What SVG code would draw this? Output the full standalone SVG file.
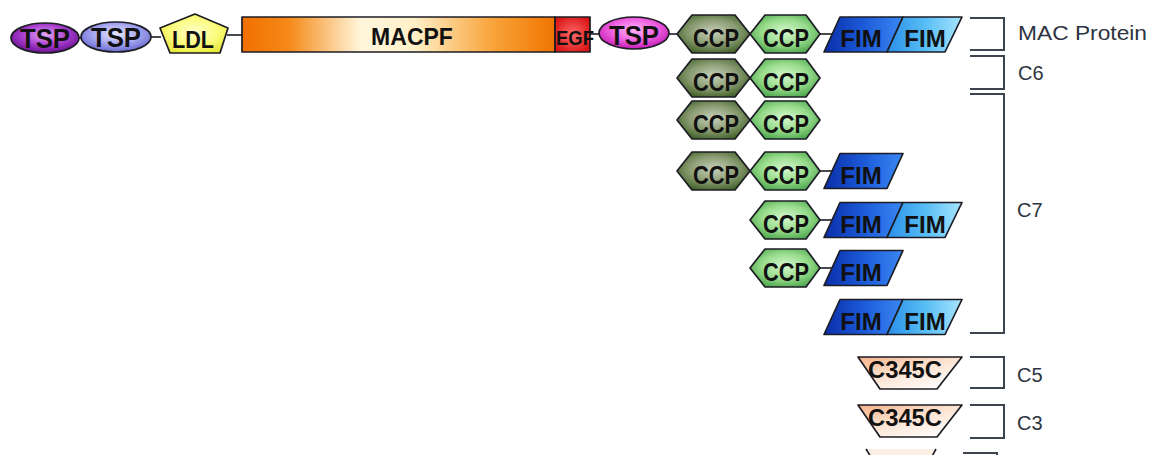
<svg xmlns="http://www.w3.org/2000/svg" width="1152" height="455" viewBox="0 0 1152 455">
  <style>
    .dom { stroke: #1c1c24; stroke-width: 1.7; stroke-linejoin: round; }
    .lbl { font-family: "Liberation Sans", Arial, sans-serif; font-weight: bold; fill: #111; text-anchor: middle; }
    .ccp { font-size: 26px; }
    .fim { font-size: 24px; }
    .tsp { font-size: 27px; }
    .link { stroke: #1c1c24; stroke-width: 1.6; fill: none; }
    .brk { stroke: #3c4450; stroke-width: 2; fill: none; }
    .name { font-family: "Liberation Sans", Arial, sans-serif; font-size: 20px; fill: #2c3440; }
  </style>
  <defs>
    <radialGradient id="gTsp1" cx="0.5" cy="0.4" r="0.6">
      <stop offset="0" stop-color="#e2a6f4"/>
      <stop offset="0.55" stop-color="#a93fd0"/>
      <stop offset="1" stop-color="#6a1190"/>
    </radialGradient>
    <radialGradient id="gTsp2" cx="0.5" cy="0.4" r="0.6">
      <stop offset="0" stop-color="#e6e6ff"/>
      <stop offset="0.55" stop-color="#a6a6f0"/>
      <stop offset="1" stop-color="#6a6ad0"/>
    </radialGradient>
    <radialGradient id="gLdl" cx="0.5" cy="0.45" r="0.6">
      <stop offset="0" stop-color="#ffffc8"/>
      <stop offset="0.6" stop-color="#fbfb7a"/>
      <stop offset="1" stop-color="#e8e83a"/>
    </radialGradient>
    <linearGradient id="gMac" x1="0" y1="0" x2="1" y2="0">
      <stop offset="0" stop-color="#f07000"/>
      <stop offset="0.15" stop-color="#f58a18"/>
      <stop offset="0.38" stop-color="#fff6dc"/>
      <stop offset="0.55" stop-color="#fff0c8"/>
      <stop offset="0.8" stop-color="#f8a43a"/>
      <stop offset="1" stop-color="#f07400"/>
    </linearGradient>
    <radialGradient id="gEgf" cx="0.5" cy="0.5" r="0.6">
      <stop offset="0" stop-color="#ff6a6a"/>
      <stop offset="1" stop-color="#d81414"/>
    </radialGradient>
    <radialGradient id="gTsp3" cx="0.5" cy="0.4" r="0.6">
      <stop offset="0" stop-color="#ffb4f8"/>
      <stop offset="0.55" stop-color="#ee62e0"/>
      <stop offset="1" stop-color="#c41cb4"/>
    </radialGradient>
    <radialGradient id="gCcpD" cx="0.5" cy="0.45" r="0.6">
      <stop offset="0" stop-color="#c8d0bc"/>
      <stop offset="0.55" stop-color="#8a9c72"/>
      <stop offset="1" stop-color="#3e5e26"/>
    </radialGradient>
    <radialGradient id="gCcpL" cx="0.5" cy="0.45" r="0.6">
      <stop offset="0" stop-color="#d6f8d0"/>
      <stop offset="0.55" stop-color="#98dc8c"/>
      <stop offset="1" stop-color="#4aa44a"/>
    </radialGradient>
    <linearGradient id="gFimA" x1="0" y1="0" x2="1" y2="0">
      <stop offset="0" stop-color="#0a2ea8"/>
      <stop offset="0.5" stop-color="#1c5ad8"/>
      <stop offset="1" stop-color="#3a88f4"/>
    </linearGradient>
    <linearGradient id="gFimB" x1="0" y1="0" x2="1" y2="0">
      <stop offset="0" stop-color="#2a8ee8"/>
      <stop offset="0.5" stop-color="#56bdf4"/>
      <stop offset="1" stop-color="#a8e4ff"/>
    </linearGradient>
    <linearGradient id="gC345" x1="0" y1="0" x2="0.8" y2="1">
      <stop offset="0" stop-color="#f4b088"/>
      <stop offset="0.45" stop-color="#fce0cc"/>
      <stop offset="1" stop-color="#ffffff"/>
    </linearGradient>

    <!-- reusable domain outlines, centred on the row's axis -->
    <polygon id="hexD" points="-36.5,0 -21.5,-19 21.5,-19 36.5,0 21.5,19 -21.5,19"/>
    <polygon id="hexL" points="-35,0 -20,-19 21,-19 35,0 21,19 -20,19"/>
    <polygon id="fimA" points="840,-17.5 903,-17.5 887,17.5 824,17.5"/>
    <polygon id="fimB" points="903,-17.5 962,-17.5 945,17.5 887,17.5"/>
    <polygon id="trap" points="858,-16 962,-16 937,16 880,16"/>
  </defs>

  <rect width="1152" height="455" fill="#ffffff"/>

  <!-- connectors between adjacent domains -->
  <g id="connectors">
    <line class="link" x1="78" y1="38" x2="82" y2="38"/>
    <line class="link" x1="151" y1="37" x2="161" y2="37"/>
    <line class="link" x1="227" y1="35" x2="242" y2="35"/>
    <line class="link" x1="589" y1="34" x2="599" y2="34"/>
    <line class="link" x1="669" y1="34" x2="678" y2="34"/>
    <line class="link" x1="819" y1="34" x2="833" y2="34"/>
    <line class="link" x1="819" y1="171" x2="833" y2="171"/>
    <line class="link" x1="819" y1="220" x2="833" y2="220"/>
    <line class="link" x1="819" y1="268" x2="833" y2="268"/>
  </g>

  <!-- MAC protein: full domain chain -->
  <g id="mac-tsp1">
    <ellipse class="dom" cx="45" cy="38" rx="34" ry="15" fill="url(#gTsp1)"/>
    <text class="lbl tsp" x="45" y="48" textLength="50" lengthAdjust="spacingAndGlyphs">TSP</text>
  </g>
  <g id="mac-tsp2">
    <ellipse class="dom" cx="116" cy="37" rx="35" ry="15" fill="url(#gTsp2)"/>
    <text class="lbl tsp" x="116" y="47" textLength="50" lengthAdjust="spacingAndGlyphs">TSP</text>
  </g>
  <g id="mac-ldl">
    <polygon class="dom" points="195,14 228,28 220,53 170,53 160,28" fill="url(#gLdl)"/>
    <text class="lbl" x="193" y="48" font-size="23" textLength="42" lengthAdjust="spacingAndGlyphs">LDL</text>
  </g>
  <g id="mac-macpf">
    <rect class="dom" x="242" y="17" width="313" height="35" fill="url(#gMac)"/>
    <text class="lbl" x="412" y="45" font-size="23">MACPF</text>
  </g>
  <g id="mac-egf">
    <rect class="dom" x="555" y="17" width="35" height="35" fill="url(#gEgf)"/>
    <text class="lbl" x="575" y="45" font-size="20" textLength="38" lengthAdjust="spacingAndGlyphs">EGF</text>
  </g>
  <g id="mac-tsp3">
    <ellipse class="dom" cx="634" cy="33" rx="35" ry="16" fill="url(#gTsp3)"/>
    <text class="lbl tsp" x="634" y="45" textLength="50" lengthAdjust="spacingAndGlyphs">TSP</text>
  </g>
  <g id="mac-ccp1">
    <use href="#hexD" x="713.5" y="34" class="dom" fill="url(#gCcpD)"/>
    <text class="lbl ccp" x="716" y="47" textLength="46" lengthAdjust="spacingAndGlyphs">CCP</text>
  </g>
  <g id="mac-ccp2">
    <use href="#hexL" x="785" y="34" class="dom" fill="url(#gCcpL)"/>
    <text class="lbl ccp" x="786" y="47" textLength="46" lengthAdjust="spacingAndGlyphs">CCP</text>
  </g>
  <g id="mac-fim1">
    <use href="#fimA" y="34.5" class="dom" fill="url(#gFimA)"/>
    <text class="lbl fim" x="861" y="47">FIM</text>
  </g>
  <g id="mac-fim2">
    <use href="#fimB" y="34.5" class="dom" fill="url(#gFimB)"/>
    <text class="lbl fim" x="925" y="47">FIM</text>
  </g>

  <!-- C6 -->
  <g id="c6-ccp1">
    <use href="#hexD" x="713.5" y="78" class="dom" fill="url(#gCcpD)"/>
    <text class="lbl ccp" x="716" y="91" textLength="46" lengthAdjust="spacingAndGlyphs">CCP</text>
  </g>
  <g id="c6-ccp2">
    <use href="#hexL" x="785" y="78" class="dom" fill="url(#gCcpL)"/>
    <text class="lbl ccp" x="786" y="91" textLength="46" lengthAdjust="spacingAndGlyphs">CCP</text>
  </g>

  <!-- C7 variants -->
  <g id="c7a-ccp1">
    <use href="#hexD" x="713.5" y="120" class="dom" fill="url(#gCcpD)"/>
    <text class="lbl ccp" x="716" y="133" textLength="46" lengthAdjust="spacingAndGlyphs">CCP</text>
  </g>
  <g id="c7a-ccp2">
    <use href="#hexL" x="785" y="120" class="dom" fill="url(#gCcpL)"/>
    <text class="lbl ccp" x="786" y="133" textLength="46" lengthAdjust="spacingAndGlyphs">CCP</text>
  </g>

  <g id="c7b-ccp1">
    <use href="#hexD" x="713.5" y="171" class="dom" fill="url(#gCcpD)"/>
    <text class="lbl ccp" x="716" y="184" textLength="46" lengthAdjust="spacingAndGlyphs">CCP</text>
  </g>
  <g id="c7b-ccp2">
    <use href="#hexL" x="785" y="171" class="dom" fill="url(#gCcpL)"/>
    <text class="lbl ccp" x="786" y="184" textLength="46" lengthAdjust="spacingAndGlyphs">CCP</text>
  </g>
  <g id="c7b-fim1">
    <use href="#fimA" y="171" class="dom" fill="url(#gFimA)"/>
    <text class="lbl fim" x="861" y="184">FIM</text>
  </g>

  <g id="c7c-ccp2">
    <use href="#hexL" x="785" y="220" class="dom" fill="url(#gCcpL)"/>
    <text class="lbl ccp" x="786" y="233" textLength="46" lengthAdjust="spacingAndGlyphs">CCP</text>
  </g>
  <g id="c7c-fim1">
    <use href="#fimA" y="220" class="dom" fill="url(#gFimA)"/>
    <text class="lbl fim" x="861" y="233">FIM</text>
  </g>
  <g id="c7c-fim2">
    <use href="#fimB" y="220" class="dom" fill="url(#gFimB)"/>
    <text class="lbl fim" x="925" y="233">FIM</text>
  </g>

  <g id="c7d-ccp2">
    <use href="#hexL" x="785" y="268" class="dom" fill="url(#gCcpL)"/>
    <text class="lbl ccp" x="786" y="281" textLength="46" lengthAdjust="spacingAndGlyphs">CCP</text>
  </g>
  <g id="c7d-fim1">
    <use href="#fimA" y="268" class="dom" fill="url(#gFimA)"/>
    <text class="lbl fim" x="861" y="281">FIM</text>
  </g>

  <g id="c7e-fim1">
    <use href="#fimA" y="317" class="dom" fill="url(#gFimA)"/>
    <text class="lbl fim" x="861" y="330">FIM</text>
  </g>
  <g id="c7e-fim2">
    <use href="#fimB" y="317" class="dom" fill="url(#gFimB)"/>
    <text class="lbl fim" x="925" y="330">FIM</text>
  </g>

  <!-- C5 / C3 -->
  <g id="c5-c345c">
    <use href="#trap" y="373" class="dom" fill="url(#gC345)"/>
    <text class="lbl" x="905" y="378" font-size="24" textLength="74" lengthAdjust="spacingAndGlyphs">C345C</text>
  </g>
  <g id="c3-c345c">
    <use href="#trap" y="421" class="dom" fill="url(#gC345)"/>
    <text class="lbl" x="905" y="426" font-size="24" textLength="74" lengthAdjust="spacingAndGlyphs">C345C</text>
  </g>
  <g id="next-c345c">
    <polygon points="866,449 936,449 929,462 874,462" fill="#fdeee4"/>
    <line class="link" x1="866" y1="449" x2="874" y2="462"/>
    <line class="link" x1="936" y1="449" x2="929" y2="462"/>
  </g>

  <!-- family brackets and names -->
  <g id="brackets">
    <polyline class="brk" points="970,18 1004,18 1004,50 970,50"/>
    <polyline class="brk" points="970,56 1004,56 1004,89 970,89"/>
    <polyline class="brk" points="970,94 1004,94 1004,333 970,333"/>
    <polyline class="brk" points="970,357 1004,357 1004,388 970,388"/>
    <polyline class="brk" points="970,405 1004,405 1004,438 970,438"/>
    <polyline class="brk" points="963,453 997,453 997,460"/>
  </g>
  <g id="labels">
    <text class="name" x="1018" y="40" font-size="21" textLength="129" lengthAdjust="spacingAndGlyphs">MAC Protein</text>
    <text class="name" x="1018" y="80">C6</text>
    <text class="name" x="1017" y="217">C7</text>
    <text class="name" x="1017" y="382">C5</text>
    <text class="name" x="1017" y="430">C3</text>
  </g>
</svg>
